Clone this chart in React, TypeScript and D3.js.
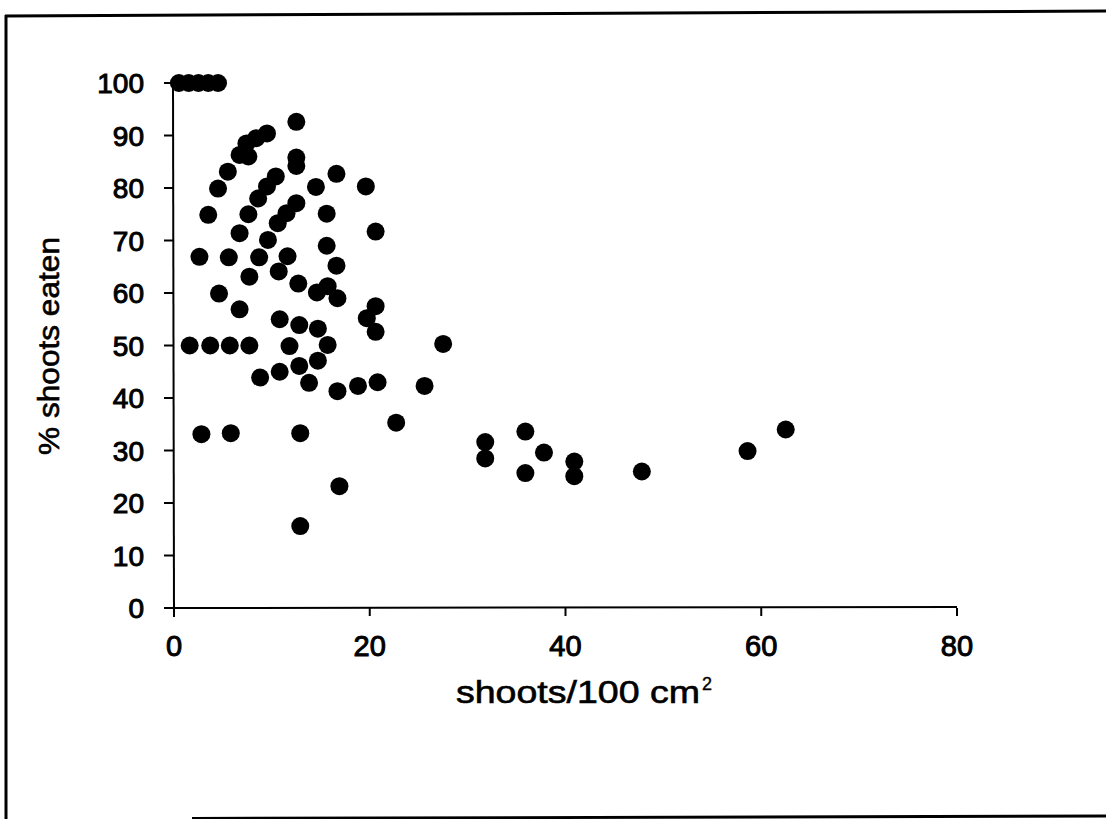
import React from "react";
import * as d3 from "d3";

const xValues: number[] = [
  0.5, 1.5, 2.5, 3.5, 4.5,
  12.5, 9.5, 8.4, 7.4, 6.7, 7.6, 5.5, 4.5, 3.5,
  12.5, 12.5, 10.4, 9.5, 8.6, 7.6, 6.7,
  16.6, 14.5, 12.5, 11.5, 10.6, 15.6, 9.6, 15.6,
  2.6, 5.6, 8.7, 11.6, 16.6,
  7.7, 10.7, 12.7, 14.6, 15.7, 16.7, 4.6, 6.7,
  10.8, 12.8, 14.7,
  1.6, 3.7, 5.7, 7.7, 11.8, 15.7,
  14.7, 12.8, 10.8, 8.8, 13.8, 16.7,
  2.8, 5.8, 12.9, 16.9, 12.9,
  19.6, 20.6, 20.6, 19.7, 20.6,
  27.5, 18.8, 20.8, 25.6, 22.7,
  31.8, 31.8, 35.9, 35.9, 37.8, 40.9, 40.9, 47.8, 58.6, 62.5,
];

const yValues: number[] = [
  100, 100, 100, 100, 100,
  92.6, 90.4, 89.5, 88.5, 86.3, 86, 83.1, 79.9, 74.9,
  85.8, 84.2, 82.2, 80.3, 78, 75, 71.4,
  82.7, 80.2, 77.1, 75.2, 73.3, 75.1, 70.1, 69,
  66.9, 66.8, 66.8, 67, 65.2,
  63.1, 64.1, 61.8, 60.1, 61.3, 59, 59.9, 56.9,
  55, 53.9, 53.2,
  50, 50, 50, 50, 49.9, 50.1,
  47.1, 46.1, 45, 43.9, 42.9, 41.3,
  33.1, 33.3, 33.3, 23.2, 15.6,
  80.3, 71.7, 57.5, 55.2, 52.6,
  50.3, 42.3, 43, 42.3, 35.3,
  31.6, 28.5, 33.6, 25.7, 29.6, 27.9, 25.1, 26, 29.9, 34,
];

const xTicks: number[] = [0, 20, 40, 60, 80];
const yTicks: number[] = [0, 10, 20, 30, 40, 50, 60, 70, 80, 90, 100];

const xLabel = "shoots/100 cm";
const xLabelSup = "2";
const yLabel = "% shoots eaten";

export default function App() {
  const W = 1106;
  const H = 819;
  const x = d3.scaleLinear().domain([0, 80]).range([174, 957]);
  const y = d3.scaleLinear().domain([0, 100]).range([608, 83]);
  const font = "'Liberation Sans', Arial, Helvetica, sans-serif";
  const pts = d3.zip(xValues, yValues);

  return (
    <svg
      width={W}
      height={H}
      style={{ position: "absolute", left: 0, top: 0, background: "#fff", overflow: "hidden" }}
    >
      <rect x={0} y={0} width={W} height={H} fill="#fff" />
      {/* frame */}
      <path d="M5,16 L1106,11" stroke="#000" strokeWidth={3} fill="none" />
      <path d="M6,15 L6,819" stroke="#000" strokeWidth={3} fill="none" />
      <path d="M192,818.5 L1106,816" stroke="#000" strokeWidth={3} fill="none" />

      {/* axes */}
      <line x1={x(0) - 1} x2={x(0)} y1={y(100)} y2={y(0) + 9} stroke="#000" strokeWidth={2} />
      <line x1={x(0) - 10} x2={x(80)} y1={y(0)} y2={y(0) - 1} stroke="#000" strokeWidth={2} />
      {yTicks.map((t) => (
        <g key={"y" + t}>
          <line x1={x(0) - 10} x2={x(0)} y1={y(t)} y2={y(t)} stroke="#000" strokeWidth={2} />
          <text
            x={144}
            y={y(t)}
            dy="0.36em"
            textAnchor="end"
            fontFamily={font}
            fontSize={28}
            stroke="#000"
            strokeWidth={1}
          >
            {t}
          </text>
        </g>
      ))}
      {xTicks.map((t) => (
        <g key={"x" + t}>
          <line x1={x(t)} x2={x(t)} y1={y(0)} y2={y(0) + 8} stroke="#000" strokeWidth={2} />
          <text
            x={x(t)}
            y={656}
            textAnchor="middle"
            fontFamily={font}
            fontSize={29}
            stroke="#000"
            strokeWidth={1}
          >
            {t}
          </text>
        </g>
      ))}

      {/* points */}
      {pts.map(([a, b], i) => (
        <circle key={i} cx={x(a)} cy={y(b)} r={9} fill="#000" />
      ))}

      {/* axis titles */}
      <text
        x={456}
        y={703}
        fontFamily={font}
        fontSize={31}
        stroke="#000"
        strokeWidth={0.6}
        textLength={244}
        lengthAdjust="spacingAndGlyphs"
      >
        {xLabel}
      </text>
      <text
        x={702}
        y={690}
        fontFamily={font}
        fontSize={18}
        stroke="#000"
        strokeWidth={0.4}
      >
        {xLabelSup}
      </text>
      <text
        transform={`translate(59,346) rotate(-90)`}
        textAnchor="middle"
        fontFamily={font}
        fontSize={30}
        stroke="#000"
        strokeWidth={0.6}
        textLength={218}
        lengthAdjust="spacingAndGlyphs"
      >
        {yLabel}
      </text>
    </svg>
  );
}
